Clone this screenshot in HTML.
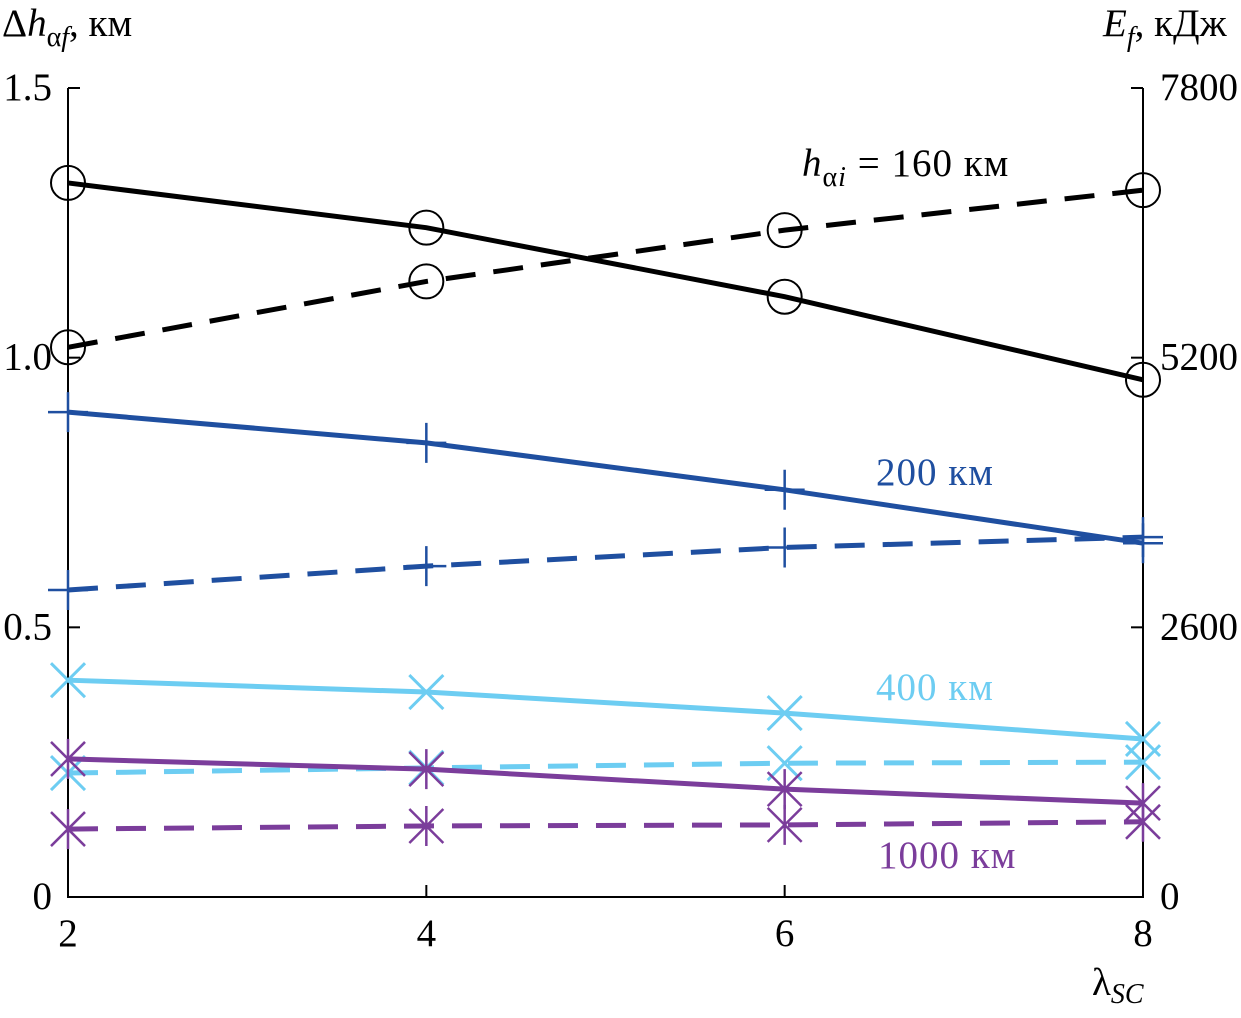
<!DOCTYPE html>
<html><head><meta charset="utf-8"><style>
html,body{margin:0;padding:0;background:#fff}
svg text{font-family:"Liberation Serif",serif;font-size:39px}
svg text.tk{font-size:39px}
</style></head><body>
<svg id="c" width="1241" height="1013" viewBox="0 0 1241 1013">
<g id="axes"></g>
<g id="series"></g>
<text x="2" y="36">Δ<tspan font-style="italic">h</tspan><tspan font-size="28" dy="10">α<tspan font-style="italic">f</tspan></tspan><tspan dy="-10">, км</tspan></text>
<text x="1103" y="36"><tspan font-style="italic">E</tspan><tspan font-size="28" dy="10" font-style="italic">f</tspan><tspan dy="-10">, кДж</tspan></text>
<text x="1092" y="995">λ<tspan font-size="28" dy="8" font-style="italic">SC</tspan></text>
<text x="802" y="176" letter-spacing="1"><tspan font-style="italic">h</tspan><tspan font-size="28" dy="10">α<tspan font-style="italic">i</tspan></tspan><tspan dy="-10"> = 160 км</tspan></text>
<text x="876" y="485" fill="#1f4fa0" letter-spacing="1">200 км</text>
<text x="876" y="700" fill="#6dcdf2" letter-spacing="1">400 км</text>
<text x="878" y="868" fill="#7b3d9b" letter-spacing="1">1000 км</text>
</svg>
<script>
const xCats=[2,4,6,8];
const leftTicks=[0,0.5,1.0,1.5];
const leftTickLabels=["0","0.5","1.0","1.5"];
const rightTicks=[0,2600,5200,7800];
const rightTickLabels=["0","2600","5200","7800"];
const dh160=[1.324,1.241,1.113,0.959];
const dh200=[0.899,0.842,0.755,0.656];
const dh400=[0.402,0.380,0.341,0.293];
const dh1000=[0.256,0.237,0.200,0.174];
const e160=[5300,5935,6430,6815];
const e200=[2960,3190,3370,3470];
const e400=[1195,1245,1290,1300];
const e1000=[655,685,695,725];

const NS="http://www.w3.org/2000/svg";
const X0=68,X1=1143,Y0=897,Y1=88;
const xs=v=>X0+(v-2)/6*(X1-X0);
const yl=v=>Y0-v/1.5*(Y0-Y1);
const yr=v=>Y0-v/7800*(Y0-Y1);
function mk(tag,attrs,parent){const e=document.createElementNS(NS,tag);for(const k in attrs)e.setAttribute(k,attrs[k]);parent.appendChild(e);return e;}
const ax=document.getElementById('axes'),sr=document.getElementById('series');
let l=mk('path',{d:`M${X0},${Y1}V${Y0}H${X1}V${Y1}`,fill:'none',stroke:'#000','stroke-width':2},ax);


leftTicks.forEach((v,i)=>{
 const y=yl(v);
 let t=mk('line',{x1:X0,x2:X0+12,y1:y,y2:y,stroke:'#000','stroke-width':2},ax);
 
 
 let tx=mk('text',{x:X0-16,y:y+12,'text-anchor':'end','class':'tk'},ax);tx.textContent=leftTickLabels[i];
 
 
});
rightTicks.forEach((v,i)=>{
 const y=yr(v);
 let t=mk('line',{x1:X1-12,x2:X1,y1:y,y2:y,stroke:'#000','stroke-width':2},ax);
 
 
 let tx=mk('text',{x:1160,y:y+12,'class':'tk'},ax);tx.textContent=rightTickLabels[i];
 
 
});
xCats.forEach(v=>{
 const x=xs(v);
 let t=mk('line',{x1:x,x2:x,y1:Y0,y2:Y0-12,stroke:'#000','stroke-width':2},ax);
 
 
 let tx=mk('text',{x:x,y:946,'text-anchor':'middle','class':'tk'},ax);tx.textContent=String(v);
 
 
});
function marker(type,x,y,col,g){
 let d='';
 if(type==='circle'){let c=mk('circle',{cx:x,cy:y,r:17,fill:'none',stroke:col,'stroke-width':2},g);return c;}
 if(type==='plus')d=`M${x-20},${y}H${x+20}M${x},${y-20}V${y+20}`;
 if(type==='x')d=`M${x-17},${y-17}L${x+17},${y+17}M${x-17},${y+17}L${x+17},${y-17}`;
 if(type==='star')d=`M${x-17},${y-17}L${x+17},${y+17}M${x-17},${y+17}L${x+17},${y-17}M${x},${y-20}V${y+20}`;
 return mk('path',{d:d,fill:'none',stroke:col,'stroke-width':type==='x'?3:2.5},g);
}
const defs=[
 ['160',dh160,e160,'#000','circle'],
 ['200',dh200,e200,'#1f4fa0','plus'],
 ['400',dh400,e400,'#6dcdf2','x'],
 ['1000',dh1000,e1000,'#7b3d9b','star']];
defs.forEach(([n,dh,e,col,m])=>{
 [[dh,yl,false,'dh'],[e,yr,true,'e']].forEach(([vals,sc,dash,kind])=>{
  const g=mk('g',{},sr);
  
  
  const pts=vals.map((v,i)=>xs(xCats[i])+','+sc(v)).join(' ');
  const pl=mk('polyline',{points:pts,fill:'none',stroke:col,'stroke-width':5,'stroke-dasharray':dash?'30 18':'none'},g);
  
  
  vals.forEach((v,i)=>{
   const mm=marker(m,xs(xCats[i]),sc(v),col,g);
   
   
  });
 });
});
</script>
</body></html>
